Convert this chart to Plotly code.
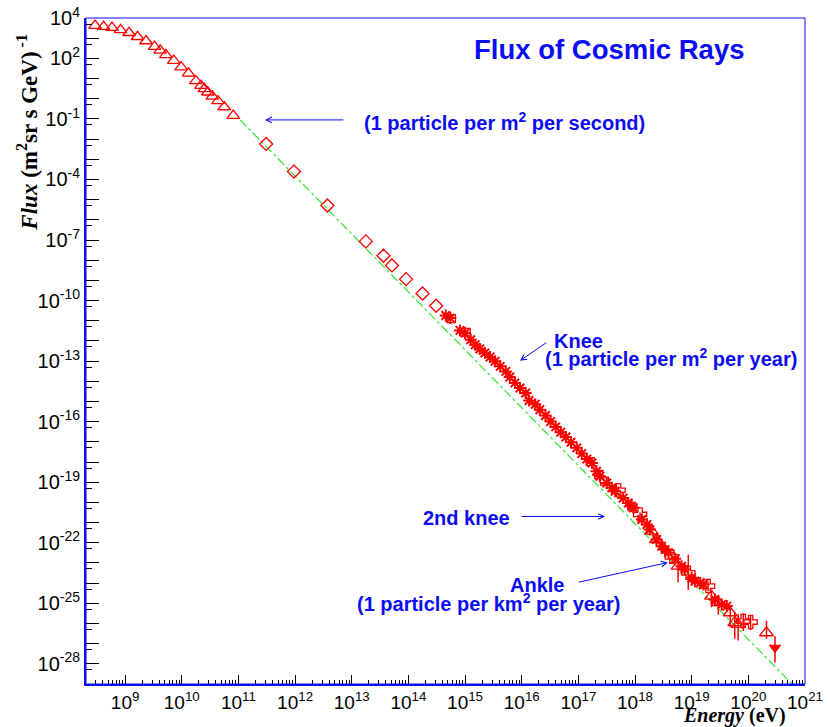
import numpy as np
import plotly.graph_objects as go

# ---- measured cosmic-ray flux, stored as log10(E / eV) and log10(flux) ----
# low-energy direct measurements (open triangles)
low_tri_logE = [8.47, 8.62, 8.77, 8.92, 9.07, 9.22, 9.37, 9.52, 9.62, 9.72, 9.86,
                9.99, 10.12, 10.25, 10.34, 10.40, 10.46, 10.54, 10.64, 10.75, 10.91]
low_tri_logF = [3.62, 3.57, 3.52, 3.41, 3.27, 3.07, 2.86, 2.58, 2.40, 2.17, 1.89,
                1.57, 1.26, 0.88, 0.65, 0.49, 0.32, 0.12, -0.11, -0.41, -0.84]

# balloon / satellite points (open diamonds)
diamond_logE = [11.49, 11.98, 12.57, 13.25, 13.56, 13.71, 13.96, 14.25, 14.49]
diamond_logF = [-2.24, -3.61, -5.29, -7.07, -7.78, -8.26, -8.94, -9.65, -10.26]

# air-shower arrays (asterisks)
star_logE = [14.66, 14.74, 14.91, 15.00, 15.10, 15.18, 15.26, 15.35, 15.44, 15.53, 15.62, 15.72,
             15.79, 15.88, 15.97, 16.07, 16.13, 16.24, 16.32, 16.42, 16.51, 16.60,
             16.69, 16.78, 16.87, 16.97, 17.06, 17.15, 17.24, 17.32, 17.38, 17.50,
             17.59, 17.65, 17.79, 17.88, 17.94, 17.97, 18.12, 18.21, 18.26, 18.38,
             18.47, 18.53, 18.59, 18.71, 18.82, 18.88, 19.00, 19.06, 19.15, 19.21,
             19.41, 19.53, 19.62]
star_logF = [-10.74, -10.87, -11.48, -11.61, -11.94, -12.19, -12.40, -12.60, -12.80, -13.01, -13.26, -13.51,
             -13.79, -14.08, -14.33, -14.58, -14.95, -15.14, -15.41, -15.70, -15.99, -16.26,
             -16.53, -16.76, -17.02, -17.30, -17.58, -17.85, -18.05, -18.46, -18.71, -19.04,
             -19.28, -19.45, -19.78, -20.03, -20.19, -20.27, -20.85, -21.10, -21.35, -21.84,
             -22.17, -22.34, -22.50, -22.80, -23.16, -23.33, -23.74, -23.91, -23.99, -24.07,
             -24.81, -25.06, -25.14]

# open squares
square_logE = [14.76, 15.02, 17.21, 17.36, 17.46]
square_logF = [-10.90, -11.58, -17.98, -18.62, -18.95]

# open crosses with errors (dex)
cross_logE = [17.71, 18.09, 18.65, 18.94, 19.29, 19.91, 20.04]
cross_logF = [-19.40, -20.60, -22.70, -23.49, -24.15, -25.88, -25.93]
cross_err_up = [0.10, 0.10, 0.15, 0.90, 0.20, 0.40, 0.30]
cross_err_dn = [0.10, 0.10, 0.15, 0.85, 0.25, 0.50, 0.40]

# ultra-high-energy open triangles with errors (dex)
hi_tri_logE = [18.29, 18.38, 18.76, 19.35, 19.47, 19.68, 19.76, 19.82, 20.32]
hi_tri_logF = [-21.43, -21.84, -23.16, -24.65, -24.97, -25.47, -25.96, -26.05, -26.46]
hi_tri_err_up = [0.10, 0.15, 0.30, 0.30, 0.25, 0.40, 0.50, 0.50, 0.60]
hi_tri_err_dn = [0.10, 0.15, 0.80, 0.55, 0.60, 0.70, 0.80, 0.80, 0.30]

# highest-energy point (filled down triangle)
top_logE = [20.47]
top_logF = [-27.20]
top_err_up = [0.57]
top_err_dn = [0.74]

# reference power law E^-2.87 (two end points)
line_logE = [11.03, 21.0]
line_logF = [-1.05, -29.66]

# axis labels
x_label_exps = list(range(9, 22))
y_label_exps = [4, 2, -1, -4, -7, -10, -13, -16, -19, -22, -25, -28]

RED = "#ff0000"
BLUE = "#0c0cf2"


def lin(a):
    return np.power(10.0, np.asarray(a, dtype=float))


def err_arrays(logF, up, dn):
    f = lin(logF)
    return f * (lin(up) - 1.0), f * (1.0 - lin(-np.asarray(dn)))


fig = go.Figure()

fig.add_trace(go.Scatter(
    x=lin(line_logE), y=lin(line_logF), mode="lines",
    line=dict(color="#2ee62e", width=1.2, dash="dashdot"), hoverinfo="skip"))

fig.add_trace(go.Scatter(
    x=lin(low_tri_logE), y=lin(low_tri_logF), mode="markers",
    marker=dict(symbol="triangle-up-open", size=11, color=RED, line=dict(width=1.3, color=RED))))

fig.add_trace(go.Scatter(
    x=lin(diamond_logE), y=lin(diamond_logF), mode="markers",
    marker=dict(symbol="diamond-open", size=10, color=RED, line=dict(width=1.3, color=RED))))

fig.add_trace(go.Scatter(
    x=lin(star_logE), y=lin(star_logF), mode="markers",
    marker=dict(symbol="asterisk-open", size=10, color=RED, line=dict(width=2.0, color=RED))))

fig.add_trace(go.Scatter(
    x=lin(square_logE), y=lin(square_logF), mode="markers",
    marker=dict(symbol="square-open", size=8, color=RED, line=dict(width=1.3, color=RED))))

up, dn = err_arrays(cross_logF, cross_err_up, cross_err_dn)
fig.add_trace(go.Scatter(
    x=lin(cross_logE), y=lin(cross_logF), mode="markers",
    error_y=dict(type="data", symmetric=False, array=up, arrayminus=dn,
                 color=RED, thickness=1.5, width=0),
    marker=dict(symbol="cross-open", size=11, color=RED, line=dict(width=1.3, color=RED))))

up, dn = err_arrays(hi_tri_logF, hi_tri_err_up, hi_tri_err_dn)
fig.add_trace(go.Scatter(
    x=lin(hi_tri_logE), y=lin(hi_tri_logF), mode="markers",
    error_y=dict(type="data", symmetric=False, array=up, arrayminus=dn,
                 color=RED, thickness=1.5, width=0),
    marker=dict(symbol="triangle-up-open", size=12, color=RED, line=dict(width=1.3, color=RED))))

up, dn = err_arrays(top_logF, top_err_up, top_err_dn)
fig.add_trace(go.Scatter(
    x=lin(top_logE), y=lin(top_logF), mode="markers",
    error_y=dict(type="data", symmetric=False, array=up, arrayminus=dn,
                 color=RED, thickness=1.5, width=0),
    marker=dict(symbol="triangle-down", size=10, color=RED, line=dict(width=1, color=RED))))

# ---- axes ----
x_minor = [m * 10.0 ** k for k in range(8, 21) for m in range(2, 10)]
y_major = [10.0 ** k for k in range(-29, 5)]
y_text = [f"10<sup>{k}</sup>" if k in y_label_exps else "" for k in range(-29, 5)]
y_minor = [5 * 10.0 ** (k - 1) for k in range(-28, 5)]

fig.update_xaxes(
    type="log", range=[8.31, 21.0], automargin=False,
    tickmode="array", tickvals=[10.0 ** k for k in x_label_exps],
    ticktext=[f"10<sup>{k}</sup>" for k in x_label_exps],
    ticks="inside", ticklen=9, tickwidth=1, tickcolor="black",
    minor=dict(tickmode="array", tickvals=x_minor, ticks="inside", ticklen=4,
               tickwidth=1, tickcolor="black", showgrid=False),
    showgrid=False, zeroline=False,
    showline=True, linecolor=BLUE, linewidth=2,
    tickfont=dict(family="Liberation Sans", size=19, color="black"),
)
fig.update_yaxes(
    type="log", range=[-29, 4], automargin=False,
    tickmode="array", tickvals=y_major, ticktext=y_text,
    ticks="inside", ticklen=13, tickwidth=1, tickcolor="black",
    minor=dict(tickmode="array", tickvals=y_minor, ticks="inside", ticklen=6,
               tickwidth=1, tickcolor="black", showgrid=False),
    showgrid=False, zeroline=False,
    showline=True, linecolor=BLUE, linewidth=2,
    tickfont=dict(family="Liberation Sans", size=20, color="black"),
)

text_font = dict(family="Liberation Sans", size=20, color=BLUE, weight="bold")

annotations = [
    # plot title
    dict(xref="paper", yref="paper", x=0.728, y=0.952, xanchor="center", yanchor="middle",
         showarrow=False, text="Flux of Cosmic Rays",
         font=dict(family="Liberation Sans", size=27.5, color=BLUE, weight="bold")),
    # axis titles
    dict(xref="paper", yref="paper", x=-0.081, y=0.829, xanchor="center", yanchor="middle",
         showarrow=False, textangle=-90,
         text="<i>Flux</i> (m<sup>2</sup>sr s GeV)<sup> -1</sup>",
         font=dict(family="Liberation Serif", size=23, color="black", weight="bold")),
    dict(xref="paper", yref="paper", x=0.977, y=-0.047, xanchor="right", yanchor="middle",
         showarrow=False, text="<i>Energy</i> (eV)",
         font=dict(family="Liberation Serif", size=20, color="black", weight="bold")),
    # text labels
    dict(x=13.18, y=-1.15, xanchor="left", yanchor="middle", showarrow=False,
         text="(1 particle per m<sup>2</sup> per second)", font=text_font),
    dict(x=16.535, y=-11.99, xanchor="left", yanchor="middle", showarrow=False,
         text="Knee", font=text_font),
    dict(x=16.376, y=-12.83, xanchor="left", yanchor="middle", showarrow=False,
         text="(1 particle per m<sup>2</sup> per year)", font=text_font),
    dict(x=15.02, y=-20.75, xanchor="center", yanchor="middle", showarrow=False,
         text="2nd knee", font=text_font),
    dict(x=16.27, y=-24.07, xanchor="center", yanchor="middle", showarrow=False,
         text="Ankle", font=text_font),
    dict(x=15.42, y=-24.96, xanchor="center", yanchor="middle", showarrow=False,
         text="(1 particle per km<sup>2</sup> per year)", font=text_font),
]

arrows = [
    ((11.47, -1.05), (12.88, -1.05)),
    ((15.97, -12.98), (16.46, -12.04)),
    ((17.47, -20.70), (15.97, -20.70)),
    ((18.58, -22.98), (16.98, -23.97)),
]
for (hx, hy), (tx, ty) in arrows:
    annotations.append(dict(
        x=hx, y=hy, ax=tx, ay=ty, xref="x", yref="y", axref="x", ayref="y",
        showarrow=True, arrowhead=5, arrowsize=1.1, arrowwidth=1, arrowcolor=BLUE, text=""))

fig.update_layout(
    width=828, height=727,
    margin=dict(l=86, r=23, t=18, b=43),
    paper_bgcolor="white", plot_bgcolor="white",
    showlegend=False,
    annotations=annotations,
    shapes=[dict(type="rect", xref="paper", yref="paper", x0=0, x1=1, y0=0, y1=1,
                 line=dict(color=BLUE, width=1))],
)

fig.write_html("out.html")
